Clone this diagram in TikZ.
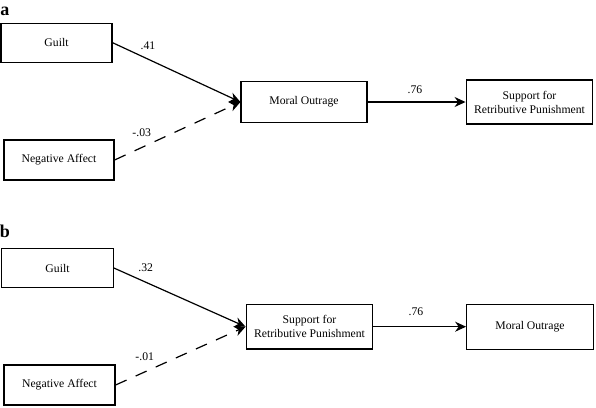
\documentclass[tikz,border=0pt]{standalone}
\usepackage{fontspec}
\setmainfont{Liberation Serif}
\usetikzlibrary{arrows.meta}
\begin{document}
\begin{tikzpicture}[x=1pt,y=-1pt,
  box/.style={draw, line width=1.2pt, inner sep=0pt, align=center, font=\fontsize{11.7}{14}\selectfont},
  coef/.style={font=\fontsize{11.7}{14}\selectfont, inner sep=0pt},
  panel/.style={font=\fontsize{18}{20}\selectfont\bfseries, inner sep=0pt},
  path/.style={line width=1.2pt, -{Stealth[length=11pt,width=10pt]}},
  dpath/.style={path, dash pattern=on 12pt off 10pt}]
\useasboundingbox (0,0) rectangle (596,407);
% panel a
\node[panel] (la) at (5,11) {a};
\node[box, minimum width=111pt, minimum height=39pt] (guiltA) at (56.5,42.7) {Guilt};
\node[box, minimum width=110pt, minimum height=40pt] (negA) at (59,160) {Negative Affect};
\node[box, minimum width=126pt, minimum height=40.6pt] (moA) at (304,102) {Moral Outrage};
\node[box, minimum width=126.7pt, minimum height=44pt] (supA) at (529.5,102) {Support for\\Retributive Punishment};
\draw[path] (guiltA.east) -- (moA.west);
\draw[dpath] (negA.east) -- (moA.west);
\draw[path] (moA.east) -- (supA.west);
\node[coef] (cA1) at (148,46) {.41};
\node[coef] (cA2) at (141.7,133) {-.03};
\node[coef] (cA3) at (415,90) {.76};
% panel b
\node[panel] (lb) at (5,231) {b};
\node[box, minimum width=111.6pt, minimum height=39.4pt] (guiltB) at (57.5,268) {Guilt};
\node[box, minimum width=111pt, minimum height=40pt] (negB) at (59.5,385) {Negative Affect};
\node[box, minimum width=126.7pt, minimum height=44.7pt] (supB) at (309.5,326.7) {Support for\\Retributive Punishment};
\node[box, minimum width=126.6pt, minimum height=45pt] (moB) at (530,326.7) {Moral Outrage};
\draw[path] (guiltB.east) -- (supB.west);
\draw[dpath] (negB.east) -- (supB.west);
\draw[path] (supB.east) -- (moB.west);
\node[coef] (cB1) at (145.7,267.7) {.32};
\node[coef] (cB2) at (144.7,356.7) {-.01};
\node[coef] (cB3) at (416,311.7) {.76};
\end{tikzpicture}
\end{document}
